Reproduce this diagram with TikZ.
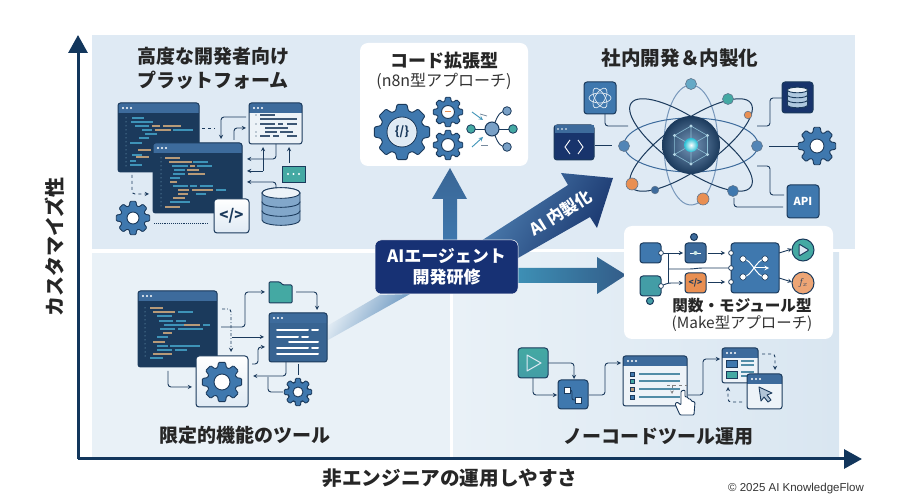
\documentclass[tikz,border=0pt]{standalone}
\usepackage{fontspec}
\setmainfont{Noto Sans CJK JP}
\newfontfamily\copyfont{Liberation Sans}
\usetikzlibrary{arrows, arrows.meta}
\definecolor{navy}{HTML}{1B3A5C}
\definecolor{axisnavy}{HTML}{12365C}
\definecolor{midblue}{HTML}{3F78AE}
\definecolor{barblue}{HTML}{3D6B9C}
\definecolor{teal1}{HTML}{44A9A3}
\definecolor{orange1}{HTML}{E98F52}
\definecolor{codeteal}{HTML}{3E93B8}
\definecolor{codetan}{HTML}{B79A78}
\definecolor{paneltop}{HTML}{DFEAF4}
\definecolor{panelleft}{HTML}{E9F1F7}
\definecolor{panelright}{HTML}{D9E6F1}
\definecolor{lightbody}{HTML}{EDF3F8}
\tikzstyle{whitebox} = [fill=white, rounded corners=8pt]
\tikzstyle{title} = [text centered, font=\bfseries\fontsize{19}{22}\selectfont, text=black!85]
\tikzstyle{subtitle} = [text centered, font=\fontsize{15.4}{17}\selectfont, text=black!80]
\tikzstyle{axis} = [axisnavy, line width=3pt, -{Triangle[length=18pt,width=19pt]}]
\tikzstyle{arrow} = [line width=0.9pt, ->, >=stealth, navy, rounded corners=3pt]
\tikzstyle{line} = [line width=0.9pt, navy, rounded corners=3pt]
\tikzstyle{gearbody} = [draw=navy, line width=0.9pt, fill=midblue, rounded corners=1pt]
\tikzstyle{gearhole} = [draw=navy, line width=0.9pt, fill=white]
\tikzstyle{tile} = [draw=navy, line width=1pt, rounded corners=3pt]
\tikzstyle{orbit} = [line width=1pt]
\tikzstyle{codeline} = [line width=1.2pt]
\tikzstyle{bullet} = [draw=navy, line width=0.6pt]
\tikzstyle{dbdisc} = [draw=navy, line width=0.9pt, fill=#1]
\newcommand{\gearicon}[5]{%
  \begin{scope}[shift={(#1,#2)}]
    \draw[gearbody] (-17:#4) \foreach \a in {0,45,...,315}{ -- (\a-17:#4) -- (\a-10:#3) -- (\a+10:#3) -- (\a+17:#4) } -- cycle;
    \draw[gearhole] (0,0) circle (#5);
  \end{scope}}
\newcommand{\windowicon}[6]{%
  \fill[#6, rounded corners=2.5pt] (#1,#2) rectangle ++(#3,#4);
  \fill[#5] (#1,#2+10) [rounded corners=2.5pt] -- (#1,#2) -- ++(#3,0) [sharp corners] -- ++(0,10) -- cycle;
  \draw[navy, line width=1pt, rounded corners=2.5pt] (#1,#2) rectangle ++(#3,#4);
  \foreach \d in {5,9,13} \fill[white] (#1+\d,#2+5) circle (1.2);}
\newcommand{\codelines}[1]{%
  \foreach \lx/\ly/\ln/\lc in {#1} \draw[codeline,\lc] (\lx,\ly) -- ++(\ln,0);}
\newcommand{\dbstack}[5]{%
  \foreach \k in {2,1,0} \draw[dbdisc=#5] (#1-#3,#2+\k*#4) -- ++(0,#4) arc[start angle=180,end angle=0,x radius=#3,y radius=#3*0.28] -- ++(0,-#4) arc[start angle=0,end angle=-180,x radius=#3,y radius=#3*0.28] -- cycle;
  \draw[navy, line width=0.9pt, fill=lightbody] (#1,#2) ellipse (#3 and #3*0.28);}
\begin{document}
\begin{tikzpicture}[x=1pt,y=-1pt]
\useasboundingbox (0,0) rectangle (900,502);
% panels
\fill[paneltop] (92,35) rectangle (855,249);
\fill[panelleft] (92,253) rectangle (450,457);
\shade[left color=panelleft, right color=panelright] (453,253) rectangle (839,457);

% axes
\coordinate (origin) at (78,459);
\coordinate (ytip) at (78,35);
\coordinate (xtip) at (862,459);
\draw[axis] (origin) -- (ytip);
\draw[axis] (origin) -- (xtip);
\node (yaxis) [title, rotate=90] at (55,247) {\fontsize{20}{22}\selectfont カスタマイズ性};
\node (xaxis) [title] at (450,478) {\fontsize{19.6}{22}\selectfont 非エンジニアの運用しやすさ};
\node (credit) [text=black!80, font=\copyfont\fontsize{11.5}{13}\selectfont] at (796,489) {© 2025 AI KnowledgeFlow};

% arrows out of the hub
\shade[left color=panelleft, right color=midblue!85, shading angle=60] (327,326) -- (380,295) -- (410,294) -- (328,340) -- cycle;
\shade[bottom color=midblue, top color=barblue!90!navy] (443,245) -- (443,199) -- (432,199) -- (450,168) -- (467,199) -- (457,199) -- (457,245) -- cycle;
\shade[left color=midblue!90, right color=navy!90!blue, shading angle=60] (470,248) -- (568,185) -- (561,173) -- (613,178) -- (597,228) -- (590,217) -- (518,258) -- (505,265) -- cycle;
\shade[left color=codeteal, right color=barblue!70!navy] (510,268) -- (597,268) -- (597,257) -- (626,275) -- (597,294) -- (597,283) -- (510,283) -- cycle;
\node (inhouse) [rotate=32, text=white, font=\bfseries\fontsize{16.5}{18}\selectfont] at (561,213) {AI 内製化};
\node (hub) [fill=navy!85!blue, draw=white, line width=0.5pt, rounded corners=6pt, minimum width=143pt, minimum height=54pt, align=center, text=white, font=\bfseries\fontsize{17}{20.5}\selectfont] at (446.5,267) {AIエージェント\\開発研修};

% advanced platform
\node (platform) [title] at (213,56) {高度な開発者向け};
\node (platform2) [title] at (213,80) {プラットフォーム};
\windowicon{118}{103}{81}{69}{barblue}{navy}
\foreach \ny in {118,122,...,166} \fill[codeteal!60] (126,\ny) circle (0.5);
\codelines{132/118/12/codeteal, 131/122/22/codeteal, 135/126/14/codeteal, 152/126/8/codetan, 163/126/18/codetan, 142/130/10/codeteal, 155/130/16/codetan, 173/130/20/codeteal, 145/134/12/codeteal, 139/138/10/codeteal, 130/143/12/codeteal, 138/150/13/codetan, 132/155/10/codeteal, 136/157/13/codetan, 130/161/6/codeteal, 130/165/12/codeteal}
\draw[line, dashed] (202,128) -- (215,128);
\windowicon{153}{143}{89}{70}{barblue}{navy}
\foreach \ny in {158,162,...,206} \fill[codeteal!60] (161,\ny) circle (0.5);
\codelines{165/158/15/codetan, 169/162/23/codetan, 193/162/15/codeteal, 172/166/16/codeteal, 190/166/5/codetan, 197/166/15/codeteal, 174/170/11/codeteal, 187/170/12/codetan, 173/174/12/codeteal, 188/174/17/codetan, 170/178/10/codeteal, 170/182/7/codetan, 173/186/15/codeteal, 190/186/7/codeteal, 200/186/13/codeteal, 178/190/11/codetan, 192/190/21/codetan, 216/190/10/codeteal, 178/194/10/codetan, 196/194/10/codeteal, 173/198/12/codetan, 170/202/20/codeteal, 165/207/15/codetan}
\windowicon{249}{103}{53}{41}{barblue}{lightbody}
\foreach \ny in {115,124,132,136} \fill[navy] (256,\ny) circle (0.6);
\foreach \lx/\ly/\ln in {260/115/15, 260/119/37, 260/124/15, 278/124/5, 287/124/10, 265/128/23, 265/132/12, 280/132/13, 260/136/10, 273/136/6, 287/136/10} \draw[codeline, navy!85] (\lx,\ly) -- ++(\ln,0);
\draw[arrow] (246,117) -- (221,117) -- (221,139);
\draw[arrow] (234,140) -- (234,128) -- (246,128);
\draw[arrow] (276,144) -- (276,159) -- (247,159);
\draw[arrow] (263,171) -- (247,171);
\draw[arrow] (263,171) -- (263,147);
\draw[arrow] (289,163) -- (289,147);
\draw[arrow] (276,188) -- (276,182) -- (247,182);
\draw[arrow, dashed] (132,175) -- (132,194) -- (149,194);
\draw[line, densely dotted] (154,223) -- (208,223);
\fill[teal1] (282,166) rectangle (305,182);
\draw[navy, line width=0.8pt] (282,166) rectangle (305,182);
\foreach \d in {288,293.5,299} \fill[white] (\d,174) circle (1.1);
\dbstack{281}{193}{19}{9}{midblue!65}
\gearicon{133}{218}{17}{12.5}{6}
\draw[tile, top color=white, bottom color=paneltop] (214,199) rectangle (249,233);
\node (tagcode) [text=navy, font=\bfseries\fontsize{15}{17}\selectfont] at (231.5,216) {</>};

% code extension
\fill[whitebox] (360,43) rectangle (528,166);
\node (extend) [title, font=\bfseries\fontsize{18}{21}\selectfont] at (444,61) {コード拡張型};
\node (extend2) [subtitle, font=\fontsize{16}{18}\selectfont] at (444,81) {(n8n型アプローチ)};
\gearicon{402}{132}{28}{22}{15}
\fill[paneltop] (402,132) circle (14);
\node (gearcode) [text=navy, font=\bfseries\fontsize{12}{14}\selectfont] at (402,132) {\{/\}};
\gearicon{448}{112}{15}{11}{6.5}
\draw[orange1, line width=1pt] (445,112) -- (451,112);
\gearicon{448}{145}{15}{11}{6.5}
\draw[line] (471,129) -- (513,129);
\draw[line] (492,129) .. controls (497,120) and (497,111) .. (507,111);
\draw[line] (492,129) .. controls (497,138) and (497,147) .. (507,147);
\draw[orbit, draw=navy, fill=midblue!70] (492,129) circle (7);
\foreach \nx/\ny/\nc in {507/111/midblue!70, 513/129/teal1, 507/147/midblue!70, 471/129/teal1} \draw[navy, line width=0.8pt, fill=\nc] (\nx,\ny) circle (4.3);
\draw[line width=0.9pt, ->, >=stealth, codeteal] (472,112) -- (483,120);
\draw[line width=0.9pt, ->, >=stealth, codeteal] (472,147) -- (483,137);
\draw[line width=0.8pt, navy!60] (480,114) -- (487,116);
\draw[line width=0.8pt, navy!60] (481,145) -- (488,145);

% in-house development
\node (inhouse2) [title, font=\bfseries\fontsize{19.6}{22}\selectfont] at (680,58) {社内開発＆内製化};
\draw[line] (605,114) -- (605,126) -- (628,126);
\draw[line] (595,145) -- (612,145);
\draw[line] (757,126) -- (770,126) -- (770,98) -- (783,98);
\draw[line] (769,146) -- (798,146);
\draw[line] (757,166) -- (770,166) -- (770,195) -- (784,195);
\draw[line] (734,198) -- (734,207) -- (783,207);
\draw[orbit, draw=barblue!70] (691,145) ellipse (27 and 60);
\draw[orbit, draw=barblue] (691,145) ellipse (67 and 27);
\draw[orbit, draw=navy, rotate around={-35:(691,145)}] (691,145) ellipse (73 and 24);
\draw[orbit, draw=navy, rotate around={35:(691,145)}] (691,145) ellipse (73 and 24);
\shade[inner color=barblue!70!white, outer color=navy] (691,145) circle (29);
\foreach \a in {30,90,...,330} \draw[codeteal!60!white, line width=0.6pt] (691,145) -- ++(\a:19) -- ++(\a+120:19);
\foreach \a in {30,90,...,330} \fill[codeteal!40!white] (691,145) ++(\a:19) circle (1.6);
\shade[inner color=white, outer color=codeteal!60!cyan] (691,145) circle (7);
\foreach \nx/\ny/\nr/\nc in {632/184/6/orange1, 703/199/6/orange1, 655/190/3.8/barblue, 733/191/5.5/midblue, 748/115/3.8/orange1, 728/99/5.5/teal1, 691/84/5.5/codeteal!80, 624/146/5.5/midblue!90, 757/146/5.5/midblue!90} \draw[navy!70, line width=0.6pt, fill=\nc] (\nx,\ny) circle (\nr);
\draw[tile, fill=midblue] (584,82) rectangle (616,114);
\foreach \a in {0,60,120} \draw[white!85!midblue, line width=0.7pt, rotate around={\a:(600,98)}] (600,98) ellipse (11 and 5);
\draw[tile, fill=navy!90!blue] (554,125) rectangle (594,160);
\fill[barblue] (554.5,125.5) rectangle (593.5,133);
\foreach \d in {558,562,566} \fill[white] (\d,129) circle (0.9);
\draw[white, line width=0.9pt] (570,140) -- (565,147) -- (570,154);
\draw[white, line width=0.9pt] (578,140) -- (583,147) -- (578,154);
\draw[tile, fill=navy!90!blue] (782,82) rectangle (813,113);
\dbstack{797.5}{90}{10}{5}{paneltop!70!midblue}
\gearicon{817}{146}{19}{14}{7}
\draw[tile, fill=midblue] (787,185) rectangle (819,218);
\node (api) [text=white, font=\bfseries\fontsize{11}{13}\selectfont] at (803,201.5) {API};

% function and module
\fill[whitebox] (624,226) rectangle (833,339);
\draw[line] (668,253) -- (668,283);
\draw[arrow] (661,253) -- (683,253);
\draw[arrow] (661,286) -- (668,283) -- (683,283);
\draw[line] (668,269) -- (692,269) -- (700,268) -- (731,268);
\draw[arrow] (708,253) -- (725,253);
\draw[arrow] (708,282) -- (725,282);
\draw[arrow] (779,253) -- (792,249);
\draw[arrow] (779,278) -- (792,282);
\draw[tile, fill=midblue] (640,243) rectangle (661,263);
\draw[tile, fill=teal1!75!midblue] (640,276) rectangle (661,296);
\draw[navy, line width=1pt, fill=teal1!75!midblue] (650,301) circle (3.5);
\draw[navy, line width=1pt, fill=barblue] (694,237) circle (3.5);
\draw[tile, fill=barblue] (685,243) rectangle (706,263);
\draw[white, line width=0.6pt] (690,253) -- (701,253);
\fill[white!70!teal1] (695.5,253) circle (2);
\draw[tile, fill=orange1] (685,273) rectangle (706,293);
\node (tagfn) [text=navy, font=\bfseries\fontsize{8.5}{10}\selectfont] at (695.5,283) {</>};
\draw[tile, fill=midblue] (731,243) rectangle (779,293);
\draw[white, line width=1pt] (743,259) .. controls (752,259) and (756,277) .. (765,277);
\draw[white, line width=1pt] (743,277) .. controls (752,277) and (756,259) .. (765,259);
\draw[white, line width=1pt, ->, >=stealth] (755,268) -- (769,268);
\foreach \nx/\ny in {743/259, 765/259, 743/277, 765/277} \draw[navy, line width=0.6pt, fill=white] (\nx,\ny) circle (3.2);
\foreach \nx/\ny in {661/253, 661/286, 731/253, 731/268, 731/282} \draw[navy, line width=0.7pt, fill=white] (\nx,\ny) circle (2.4);
\draw[navy, line width=1pt, fill=teal1] (803,250) circle (11);
\draw[navy, line width=1pt, fill=paneltop, rounded corners=1pt] (799,244) -- (809,250) -- (799,256) -- cycle;
\draw[navy, line width=1pt, fill=orange1!80!white] (803,283) circle (11);
\node (fx) [text=navy, font=\fontsize{10}{12}\selectfont] at (803,283) {$f_x$};
\node (module) [title, font=\bfseries\fontsize{15.6}{18}\selectfont] at (742,306) {関数・モジュール型};
\node (module2) [subtitle] at (742,324) {(Make型アプローチ)};

% no-code tools
\node (nocode) [title] at (658,437) {ノーコードツール運用};
\draw[arrow] (548,363) -- (574,363) -- (574,379);
\draw[arrow] (533,378) -- (533,395) -- (557,395);
\draw[arrow] (589,395) -- (605,395) -- (605,363) -- (621,363);
\draw[arrow] (688,395) -- (703,395) -- (703,359) -- (720,359);
\draw[tile, top color=teal1, bottom color=teal1!75!midblue] (518,348) rectangle (548,378);
\draw[paneltop, line width=1pt, line join=round] (527,355) -- (541,363) -- (527,371) -- cycle;
\draw[tile, fill=midblue] (558,380) rectangle (588,409);
\draw[navy, line width=0.8pt, rounded corners=2pt] (567,390) -- (572,390) -- (572,400) -- (578,400);
\draw[navy, line width=0.7pt, fill=white] (564,387) rectangle (570,393);
\draw[navy, line width=0.7pt, fill=white] (575,397) rectangle (581,403);
\windowicon{623}{356}{64}{50}{barblue}{lightbody}
\foreach \ny/\nc in {374/midblue, 381/teal1, 389/codetan, 397/midblue} \draw[bullet, fill=\nc] (630.5,\ny-2) rectangle ++(4,4);
\foreach \ny in {374,381,389,397} \draw[codeline, codeteal!70!gray] (639,\ny) -- (680,\ny);
\draw[line width=0.5pt, gray, dashed] (667,385) -- (687,385);
\draw[line width=0.6pt, gray, dashed, ->, >=stealth] (672,385) -- (672,394);
\draw[navy, line width=0.9pt, fill=white, rounded corners=1pt] (680,415) -- (675,404) -- (677,402) -- (681,405) -- (681,391) -- (685,390) -- (685,397) -- (688,397) -- (688,399) -- (691,399) -- (691,401) -- (695,402) -- (694,415) -- cycle;
\windowicon{722}{348}{36}{35}{barblue}{lightbody}
\draw[bullet, fill=midblue] (726,360) rectangle (737,367);
\draw[bullet, fill=teal1] (726,371) rectangle (737,378);
\foreach \ny in {361,365,372,376} \draw[codeline, codeteal!70!gray] (741,\ny) -- (754,\ny);
\windowicon{747}{374}{35}{35}{barblue}{lightbody}
\draw[navy, line width=0.9pt, fill=barblue!40!white, line join=round] (759,387) -- (772,393) -- (767,395) -- (771,400) -- (768,402) -- (764,397) -- (761,401) -- cycle;
\draw[arrow, dashed] (762,354) -- (775,354) -- (775,370);
\draw[arrow, dashed] (742,402) -- (728,402) -- (728,387);

% limited tools
\node (limited) [title] at (245,435) {限定的機能のツール};
\windowicon{138}{291}{79}{76}{barblue}{navy}
\foreach \ny in {308,312,...,358} \fill[codeteal!60] (145,\ny) circle (0.5);
\codelines{150/308/13/codetan, 153/312/22/codetan, 178/312/15/codeteal, 157/316/15/codeteal, 159/321/14/codeteal, 176/321/10/codeteal, 164/325/20/codeteal, 184/325/16/codetan, 203/325/7/codeteal, 160/329/15/codeteal, 178/329/25/codeteal, 163/333/9/codetan, 157/337/11/codeteal, 153/342/12/codetan, 157/346/11/codeteal, 170/346/30/codeteal, 157/350/15/codeteal, 175/350/12/codeteal, 153/354/19/codetan, 150/358/13/codeteal}
\windowicon{269}{313}{58}{49}{barblue}{barblue!85!navy}
\foreach \lx/\ly/\ln in {277/330/31, 312/330/6, 277/337/21, 302/337/6, 289/342/29, 277/348/31, 312/348/6, 277/354/41} \draw[white, line width=2pt, line cap=round] (\lx,\ly) -- ++(\ln,0);
\draw[arrow] (221,327) -- (245,327) -- (245,292) -- (265,292);
\draw[arrow] (296,292) -- (317,292) -- (317,310);
\draw[arrow, dashdotted] (222,309) -- (231,309) -- (231,352);
\draw[arrow] (232,337) -- (264,337);
\draw[arrow] (252,364) -- (258,364) -- (258,347) -- (265,347);
\draw[arrow] (286,362) -- (286,376) -- (253,376);
\draw[line] (298,364) -- (298,375);
\draw[line] (268,377) -- (268,392) -- (283,392);
\draw[arrow] (168,371) -- (168,387) -- (192,387);
\draw[navy, line width=1pt, fill=teal1, rounded corners=1pt] (269,282) -- (280,282) -- (283,285) -- (292,285) -- (292,303) -- (269,303) -- cycle;
\draw[tile, top color=white, bottom color=paneltop] (196,356) rectangle (248,407);
\gearicon{222}{382}{20}{15}{8}
\gearicon{298}{392}{14}{10}{5}
\end{tikzpicture}
\end{document}
